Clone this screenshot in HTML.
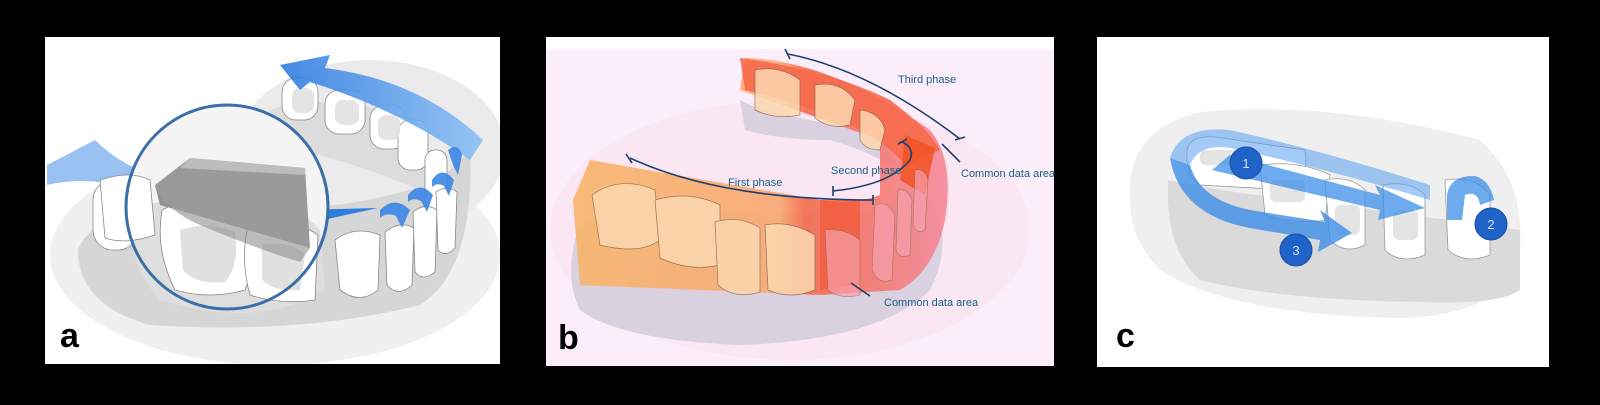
<!DOCTYPE html>
<html><head><meta charset="utf-8"><style>
html,body{margin:0;padding:0;background:#000;}
svg{display:block;}
text{font-family:"Liberation Sans",sans-serif;}
</style></head><body>
<svg width="1600" height="405" viewBox="0 0 1600 405" xmlns="http://www.w3.org/2000/svg">
<rect width="1600" height="405" fill="#000"/>
<defs>
<linearGradient id="bl" x1="0" x2="1"><stop offset="0" stop-color="#2f7de0"/><stop offset="1" stop-color="#8cc0f5"/></linearGradient>
<linearGradient id="or" x1="0" x2="1"><stop offset="0" stop-color="#f8b56a"/><stop offset="0.55" stop-color="#f9a870"/><stop offset="0.62" stop-color="#f46a4c"/><stop offset="1" stop-color="#f5889a"/></linearGradient>
<clipPath id="ca"><rect x="45" y="37" width="455" height="327"/></clipPath>
<clipPath id="cb"><rect x="546" y="37" width="508" height="329"/></clipPath>
<clipPath id="cc"><rect x="1097" y="37" width="452" height="330"/></clipPath>
</defs>

<!-- Panel a -->
<rect x="45" y="37" width="455" height="327" fill="#fff"/>
<g clip-path="url(#ca)">
<ellipse cx="275" cy="255" rx="225" ry="110" fill="#f0f0f0"/>
<ellipse cx="370" cy="150" rx="135" ry="90" fill="#ebebeb"/>
<path d="M78 250 Q95 200 250 210 Q360 210 440 180 L470 150 Q475 270 420 305 Q300 335 150 325 Q78 305 78 250Z" fill="#d6d6d6"/>
<path d="M270 110 Q320 90 420 120 L440 200 Q380 170 300 150 Z" fill="#dcdcdc"/>
<g fill="#fff" stroke="#888" stroke-width="0.8">
<rect x="282" y="78" width="36" height="42" rx="14"/>
<rect x="325" y="90" width="40" height="44" rx="14"/>
<rect x="370" y="105" width="36" height="44" rx="14"/>
<rect x="398" y="120" width="30" height="50" rx="12"/>
<rect x="425" y="150" width="22" height="60" rx="10"/>
<rect x="93" y="180" width="45" height="70" rx="20"/>
<path d="M335 240 Q355 225 380 235 L378 290 Q360 305 340 290Z"/>
<path d="M385 232 Q400 220 414 228 L412 285 Q398 298 387 285Z"/>
<path d="M413 212 Q425 202 437 210 L435 272 Q423 282 415 272Z"/>
<path d="M436 192 Q447 184 457 192 L455 248 Q446 258 438 250Z"/>
</g>
<g fill="#e4e4e4">
<rect x="292" y="88" width="22" height="25" rx="8"/><rect x="335" y="100" width="24" height="25" rx="8"/><rect x="378" y="115" width="22" height="25" rx="8"/>
</g>
<path d="M47 165 L95 140 Q115 160 140 170 L133 190 Q90 175 47 185Z" fill="#7fb3f0" opacity="0.8"/>
<path d="M280 65 L330 55 L325 68 Q420 80 483 140 L470 160 Q400 110 310 82 L300 90Z" fill="url(#bl)" opacity="0.9"/>
<path d="M300 210 L378 208 L300 225Z" fill="#2f7de0"/>
<g fill="#3b86e6" opacity="0.9">
<path d="M380 210 q15 -15 30 0 l-8 18 l-6 -12 q-10 -4 -16 2z"/>
<path d="M408 195 q12 -15 25 0 l-6 17 l-6 -11 q-8 -4 -13 1z"/>
<path d="M432 180 q10 -15 22 0 l-5 16 l-5 -10 q-7 -4 -12 1z"/>
<path d="M448 150 q10 -8 14 5 l-4 20 l-5 -10z"/>
</g>
<ellipse cx="227" cy="207" rx="101" ry="102" fill="#f4f4f4"/>
<path d="M130 215 Q160 190 250 200 Q300 205 320 230 L325 290 Q260 330 160 300 Q130 270 130 215Z" fill="#dedede"/>
<g fill="#fff" stroke="#888" stroke-width="0.8">
<path d="M162 210 Q200 190 245 205 Q265 240 245 290 Q210 300 175 290 Q155 250 162 210Z"/>
<path d="M248 225 Q290 215 318 235 L315 300 Q280 305 250 295 Q240 260 248 225Z"/>
<path d="M100 180 Q130 170 150 180 L155 235 Q125 245 105 238Z"/>
</g>
<g fill="#e0e0e0"><path d="M180 230 Q210 220 235 232 Q240 265 225 282 Q195 285 183 270Z"/><path d="M262 245 Q290 240 305 255 L300 290 Q275 292 262 280Z"/></g>
<path d="M155 185 L190 158 L305 168 L310 248 L160 205Z" fill="#9a9a9a"/>
<path d="M190 158 L305 168 L305 175 L180 168Z" fill="#bdbdbd"/>
<path d="M155 185 L160 205 L310 248 L300 262 Q260 250 200 225 Q165 210 155 185Z" fill="#8e8e8e" opacity="0.6"/>
<ellipse cx="227" cy="207" rx="101" ry="102" fill="none" stroke="#3c6ea8" stroke-width="3"/>
</g>
<text x="60" y="347" font-size="34" font-weight="bold" fill="#000">a</text>

<!-- Panel b -->
<rect x="546" y="37" width="508" height="329" fill="#fbeefa"/>
<rect x="546" y="37" width="508" height="12" fill="#fff"/>
<g clip-path="url(#cb)">
<ellipse cx="790" cy="230" rx="240" ry="130" fill="#fbe2f0" opacity="0.6"/>
<path d="M575 240 Q580 210 640 210 L820 215 Q880 215 905 190 Q900 150 860 130 L760 110 L740 100 L745 130 Q780 140 830 140 Q900 160 930 200 Q955 240 930 290 Q880 340 740 345 Q620 340 580 310 Q565 280 575 240Z" fill="#d9d0e0"/>
<path d="M573 200 L590 160 L820 200 Q855 205 880 195 L880 140 L740 90 L745 58 Q830 60 930 130 Q955 160 945 220 Q935 270 900 290 L820 295 L580 285 Z" fill="url(#or)" opacity="0.9"/>
<path d="M740 58 Q830 70 890 100 Q930 130 940 150 L905 165 Q870 120 745 90Z" fill="#f66a4c" opacity="0.9"/>
<path d="M820 200 L860 200 L860 285 L820 290Z" fill="#f25b3c" opacity="0.8"/>
<path d="M905 135 L935 148 L925 195 L900 180Z" fill="#f2501e" opacity="0.8"/>
<g fill="#fcd8b0" stroke="#8a6a50" stroke-width="0.7" opacity="0.85">
<path d="M592 195 Q620 175 655 190 L660 240 Q640 255 600 245Z"/>
<path d="M655 200 Q690 190 720 205 L720 265 Q690 272 660 258Z"/>
<path d="M715 222 Q740 215 760 228 L760 292 Q735 300 718 285Z"/>
<path d="M765 225 Q790 220 815 235 L815 290 Q790 300 768 290Z"/>
<path d="M755 70 Q780 65 800 80 L800 115 Q775 120 755 110Z"/>
<path d="M815 85 Q840 80 855 100 L850 125 Q830 130 815 118Z"/>
<path d="M860 110 Q880 112 885 130 L880 150 Q865 150 860 140Z"/>
</g>
<g fill="#f7a0ac" stroke="#8a6a50" stroke-width="0.6" opacity="0.7">
<path d="M825 230 Q845 228 860 240 L860 295 Q840 300 828 290Z"/>
<path d="M875 205 Q888 200 895 215 L892 280 Q878 285 872 270Z"/>
<path d="M898 190 Q908 188 912 200 L910 255 Q900 260 896 250Z"/>
<path d="M915 170 Q925 168 928 180 L925 230 Q917 235 913 225Z"/>
</g>
<g fill="none" stroke="#1f3f6e" stroke-width="1.6">
<path d="M788 54 Q870 70 960 139"/><path d="M785 49 L790 59 M955 140 L965 137"/>
<path d="M630 158 Q720 200 873 200"/><path d="M626 154 L632 163 M873 195 L873 205"/>
<path d="M833 191 Q890 185 910 160 Q915 148 902 142"/><path d="M833 186 L833 196 M898 144 L907 139"/>
<path d="M942 144 L960 162"/><path d="M851 283 L870 296"/>
</g>
<g font-size="11" fill="#1a5f84">
<text x="898" y="83">Third phase</text>
<text x="831" y="174">Second phase</text>
<text x="728" y="186">First phase</text>
<text x="961" y="177">Common data area</text>
<text x="884" y="306">Common data area</text>
</g>
</g>
<text x="558" y="349" font-size="34" font-weight="bold" fill="#000">b</text>

<!-- Panel c -->
<rect x="1097" y="37" width="452" height="330" fill="#fff"/>
<g clip-path="url(#cc)">
<path d="M1130 200 Q1125 130 1200 112 Q1330 100 1480 140 Q1525 180 1520 250 Q1510 315 1400 318 Q1230 315 1160 270 Q1130 240 1130 200Z" fill="#efefef"/>
<path d="M1168 180 Q1240 195 1340 205 L1520 230 L1520 290 Q1500 305 1420 302 Q1280 300 1200 280 Q1165 250 1168 180Z" fill="#dadada"/>
<g fill="#fff" stroke="#999" stroke-width="0.8">
<path d="M1187 150 Q1190 135 1215 137 L1305 150 Q1310 175 1290 190 L1200 185 Q1185 175 1187 150Z"/>
<path d="M1260 165 Q1300 160 1330 175 L1325 220 Q1300 225 1265 215Z"/>
<path d="M1325 180 Q1350 175 1365 190 L1365 245 Q1345 255 1330 240Z"/>
<path d="M1383 185 Q1410 180 1425 195 L1425 255 Q1400 265 1385 250Z"/>
<path d="M1445 180 Q1475 175 1490 195 L1490 255 Q1465 265 1448 250Z"/>
</g>
<g fill="#e4e4e4"><rect x="1200" y="150" width="40" height="15" rx="6"/><rect x="1270" y="180" width="35" height="22" rx="6"/><rect x="1335" y="205" width="25" height="30" rx="6"/><rect x="1393" y="210" width="25" height="30" rx="6"/></g>
<path d="M1170 158 Q1180 125 1230 130 Q1320 150 1430 185 L1430 200 Q1330 170 1240 150 Q1200 140 1190 165Z" fill="#5aa0f0" opacity="0.55"/>
<path d="M1170 158 L1190 165 Q1200 200 1250 210 L1325 222 L1320 210 L1352 233 L1318 252 L1320 240 L1250 228 Q1180 215 1170 158Z" fill="#3d8de8" opacity="0.8"/>
<path d="M1212 170 L1230 155 L1380 195 L1375 185 L1425 208 L1378 220 L1380 210 Z" fill="#3d8de8" opacity="0.75"/>
<path d="M1447 195 Q1450 175 1475 176 Q1490 180 1494 200 L1480 205 Q1478 190 1465 195 L1462 220 L1447 220Z" fill="#3d8de8" opacity="0.75"/>
<g fill="#1f62c8" stroke="#1a4fa0" stroke-width="1"><circle cx="1246" cy="163" r="16"/><circle cx="1491" cy="224" r="16"/><circle cx="1296" cy="250" r="16"/></g>
<g font-size="13" fill="#cfe4ff" text-anchor="middle"><text x="1246" y="168">1</text><text x="1491" y="229">2</text><text x="1296" y="255">3</text></g>
</g>
<text x="1116" y="347" font-size="34" font-weight="bold" fill="#000">c</text>
</svg>
</body></html>
